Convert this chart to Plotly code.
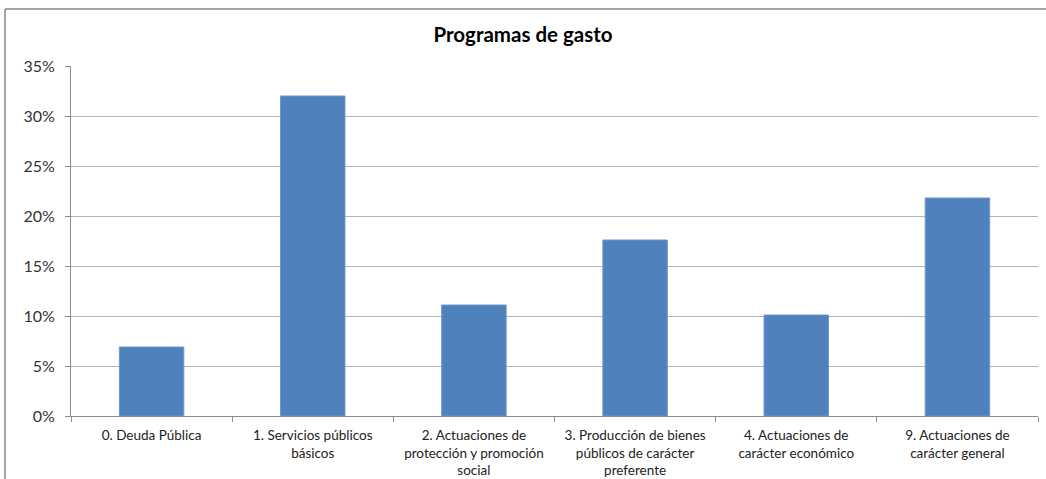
import plotly.graph_objects as go

categories = [
    "0. Deuda Pública",
    "1. Servicios públicos<br>básicos",
    "2. Actuaciones de<br>protección y promoción<br>social",
    "3. Producción de bienes<br>públicos de carácter<br>preferente",
    "4. Actuaciones de<br>carácter económico",
    "9. Actuaciones de<br>carácter general",
]
values = [0.069, 0.320, 0.111, 0.176, 0.101, 0.218]
y_ticks = [0, 0.05, 0.10, 0.15, 0.20, 0.25, 0.30, 0.35]
y_labels = ["0%", "5%", "10%", "15%", "20%", "25%", "30%", "35%"]

W, H = 1046, 479
L, R, T, B = 71, 8, 66, 63
pw, ph = W - L - R, H - T - B

fig = go.Figure(go.Bar(
    x=categories, y=values,
    marker=dict(color="#4F81BD", line=dict(color="#6E97CB", width=1)),
    width=0.4,
))

fig.update_layout(
    width=W, height=H,
    margin=dict(l=L, r=R, t=T, b=B),
    paper_bgcolor="white", plot_bgcolor="white",
    font=dict(family="Lato, Open Sans, sans-serif", color="#222"),
    showlegend=False,
    title=dict(text="<b>Programas de gasto</b>", x=0.5, xanchor="center",
               y=1 - 35 / H, yanchor="middle",
               font=dict(size=20.5, color="black", family="Lato, sans-serif")),
    bargap=0.6,
)
fig.update_yaxes(
    range=[0, 0.35], tickvals=y_ticks, ticktext=y_labels,
    showgrid=True, gridcolor="#B4B4B4", gridwidth=1,
    showline=True, linecolor="#8C8C8C", linewidth=1,
    ticks="outside", ticklen=5, tickcolor="#8C8C8C",
    tickfont=dict(size=16, color="#333"), zeroline=False,
    ticklabelstandoff=7, automargin=False,
)
fig.update_xaxes(
    showline=True, linecolor="#8C8C8C", linewidth=1,
    ticks="outside", ticklen=5, tickcolor="#8C8C8C", tickson="boundaries",
    tickfont=dict(size=13.5, color="#222"), tickangle=0,
    ticklabelstandoff=7, automargin=False,
)

# outer chart frame (left and top edges)
x0 = (5 - L) / pw
y1 = 1 + (T - 9) / ph
fig.add_shape(type="line", xref="paper", yref="paper", x0=x0, x1=x0, y0=-2, y1=y1,
              line=dict(color="#888888", width=1.5))
fig.add_shape(type="line", xref="paper", yref="paper", x0=x0, x1=2, y0=y1, y1=y1,
              line=dict(color="#888888", width=1.5))

fig.write_html("out.html", config={"displayModeBar": False},
               post_script="document.body.style.margin='0';document.body.style.overflow='hidden';")
